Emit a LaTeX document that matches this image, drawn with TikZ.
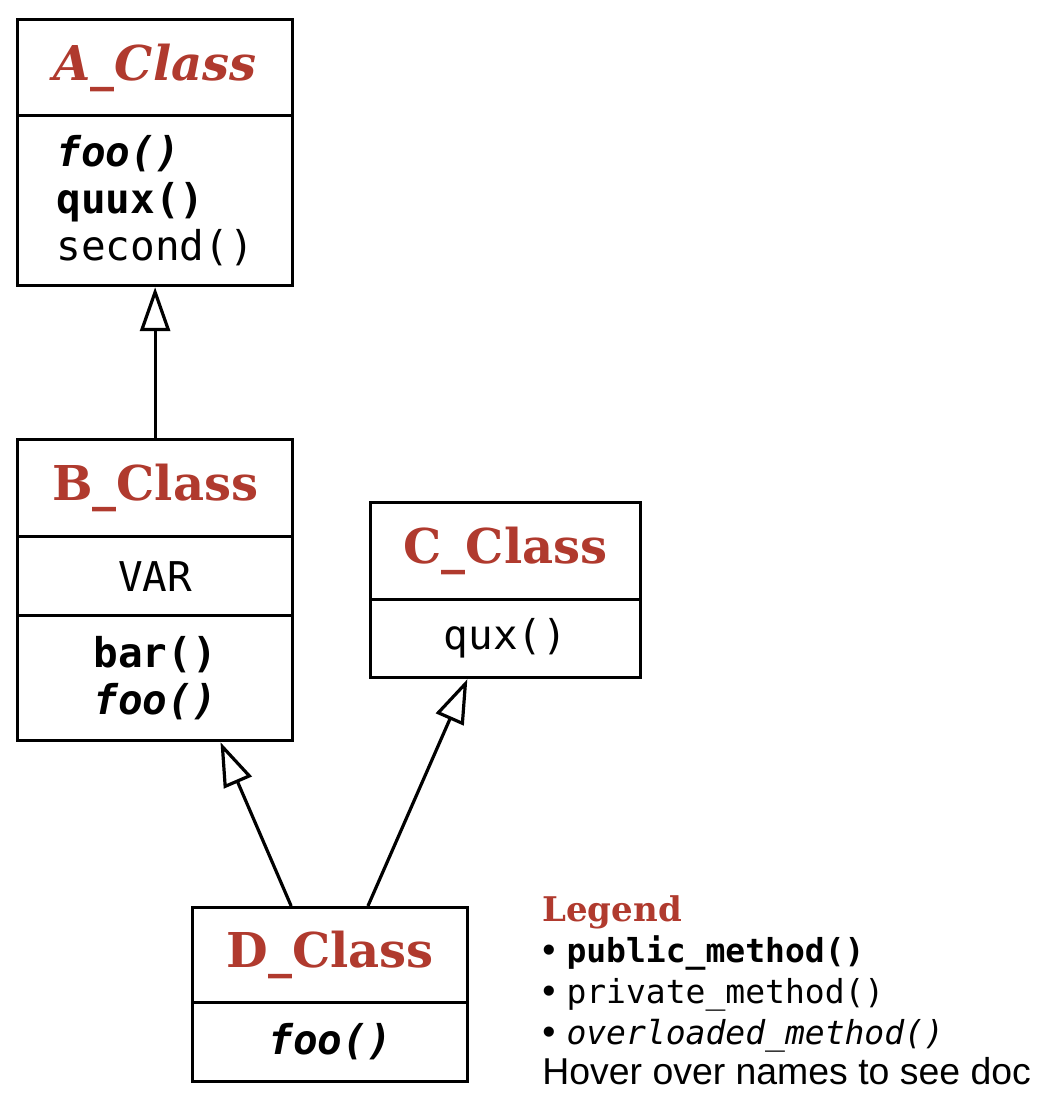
\documentclass[tikz,border=0pt]{standalone}
\usepackage{fontspec}
\setmainfont{Liberation Sans}
\setmonofont{DejaVu Sans Mono}
\newfontfamily\slabfont{DejaVu Serif}
\usetikzlibrary{arrows.meta,calc}
\definecolor{titlered}{RGB}{176,58,46}

\begin{document}
\begin{tikzpicture}[x=0.5pt,y=-0.5pt,
  compart/.style={draw=black, line width=1.6pt, rectangle, inner sep=0pt, anchor=north west},
  titlebox/.style={compart, text=titlered, font=\slabfont\bfseries\fontsize{24}{30}\selectfont},
  membox/.style={compart, align=left, font=\ttfamily\fontsize{20.5}{23.5}\selectfont},
  inh/.style={line width=1.6pt, -{Triangle[length=22pt, width=15pt, fill=white]}},
  legtitle/.style={anchor=base west, inner sep=0pt, text=titlered, font=\slabfont\bfseries\fontsize{17}{20}\selectfont},
  legitem/.style={anchor=base west, inner sep=0pt, font=\fontsize{18.7}{20}\selectfont}
]
\useasboundingbox (0,0) rectangle (1050,1112);

% A_Class
\node[titlebox, minimum width=137.5pt, minimum height=48pt] (At) at (16,18) {\itshape A\_Class};
\node[membox, minimum width=137.5pt, minimum height=85pt] (Ab) at (16,114)
  {{\bfseries\itshape foo()}\\{\bfseries quux()}\\second()};

% B_Class
\node[titlebox, minimum width=137.5pt, minimum height=48.5pt] (Bt) at (16,438) {B\_Class};
\node[membox, minimum width=137.5pt, minimum height=39.5pt] (Ba) at (16,535) {VAR};
\node[membox, minimum width=137.5pt, minimum height=62.5pt] (Bm) at (16,614)
  {{\bfseries bar()}\\{\bfseries\itshape foo()}};

% C_Class
\node[titlebox, minimum width=135pt, minimum height=48.5pt] (Ct) at (369,501) {C\_Class};
\node[membox, minimum width=135pt, minimum height=39pt] (Cm) at (369,598) {qux()};

% D_Class
\node[titlebox, minimum width=137.5pt, minimum height=47.5pt] (Dt) at (191,906) {D\_Class};
\node[membox, minimum width=137.5pt, minimum height=39.5pt] (Dm) at (191,1001) {\bfseries\itshape foo()};

% inheritance arrows
\draw[inh] (Bt.north) -- (Ab.south);
\draw[inh] ($(Dt.north west)!0.36!(Dt.north east)$) -- ($(Bm.south west)!0.735!(Bm.south east)$);
\draw[inh] ($(Dt.north west)!0.636!(Dt.north east)$) -- ($(Cm.south west)!0.36!(Cm.south east)$);

% legend
\node[legtitle] (lg) at (542,921) {Legend};
\node[legitem] (l1) at (542,962) {•\hspace{5.5pt}{\ttfamily\bfseries\fontsize{16.5}{20}\selectfont public\_method()}};
\node[legitem] (l2) at (542,1003) {•\hspace{5.5pt}{\ttfamily\fontsize{16.5}{20}\selectfont private\_method()}};
\node[legitem] (l3) at (542,1044) {•\hspace{5.5pt}{\ttfamily\itshape\fontsize{16.5}{20}\selectfont overloaded\_method()}};
\node[legitem] (l4) at (542,1084) {Hover over names to see doc};
\end{tikzpicture}
\end{document}
